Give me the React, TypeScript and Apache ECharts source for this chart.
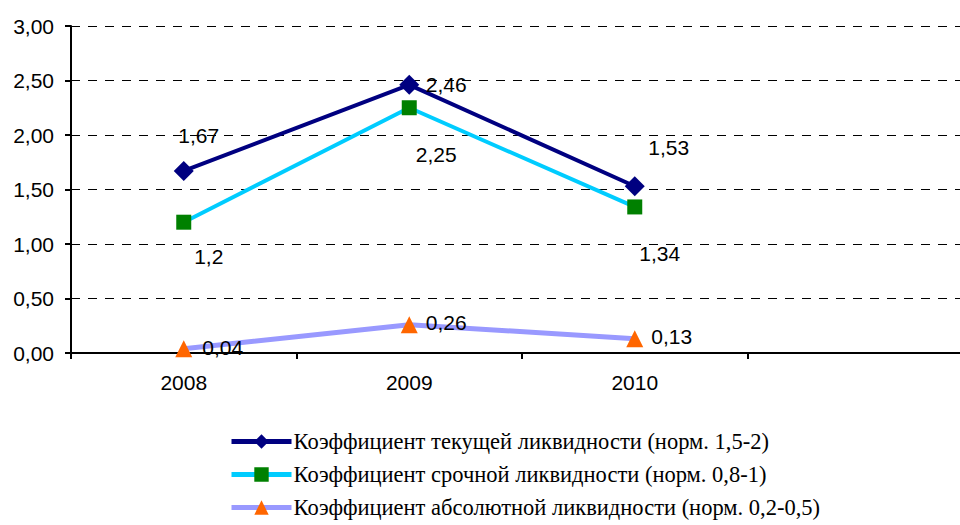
import React, { useEffect, useRef } from "react";
import * as echarts from "echarts";

const categories = ["2008", "2009", "2010", ""];
const seriesNames = [
  "Коэффициент текущей ликвидности (норм. 1,5-2)",
  "Коэффициент срочной ликвидности (норм. 0,8-1)",
  "Коэффициент абсолютной ликвидности (норм. 0,2-0,5)",
];
const currentRatio = [1.67, 2.46, 1.53];
const quickRatio = [1.2, 2.25, 1.34];
const absoluteRatio = [0.04, 0.26, 0.13];
const yTicks = { min: 0, max: 3, interval: 0.5 };

const comma = (v: number) => String(v).replace(".", ",");

export default function App() {
  const ref = useRef<HTMLDivElement>(null);
  useEffect(() => {
    if (!ref.current) return;
    const chart = echarts.init(ref.current, undefined, { renderer: "svg" });
    const labelFont = { fontFamily: "Liberation Sans", fontSize: 21, color: "#000" };
    const mk = (vals: number[], offsets: number[][]) =>
      vals.map((v, i) => ({
        value: v,
        label: { offset: offsets[i] },
      }));
    chart.setOption({
      animation: false,
      backgroundColor: "#fff",
      grid: {
        left: 71,
        width: 902,
        top: 26,
        bottom: 172,
        containLabel: false,
        outerBoundsMode: "none",
      },
      xAxis: {
        type: "category",
        data: categories,
        boundaryGap: true,
        axisLine: { lineStyle: { color: "#000", width: 2 } },
        axisTick: { show: true, interval: 0, length: 6, lineStyle: { color: "#000", width: 2 } },
        axisLabel: { ...labelFont, margin: 19, interval: 0 },
        splitLine: { show: false },
      },
      yAxis: {
        type: "value",
        min: yTicks.min,
        max: yTicks.max,
        interval: yTicks.interval,
        axisLine: { show: true, lineStyle: { color: "#000", width: 2 } },
        axisTick: { show: true, length: 6, lineStyle: { color: "#000", width: 2 } },
        axisLabel: { ...labelFont, margin: 17, formatter: (v: number) => v.toFixed(2).replace(".", ",") },
        splitLine: { show: true, lineStyle: { color: "#000", width: 1, type: [9, 8] } },
      },
      legend: {
        orient: "vertical",
        left: 229,
        top: 430,
        padding: 0,
        itemWidth: 60,
        itemHeight: 18,
        itemGap: 10,
        lineStyle: { width: 5 },
        textStyle: { fontFamily: "Liberation Serif", fontSize: 22.5, color: "#000", padding: [0, 0, 0, -3] },
        data: seriesNames,
      },
      series: [
        {
          name: seriesNames[0],
          type: "line",
          data: mk(currentRatio, [[15, -35], [37, 0], [34, -39]]),
          symbol: "diamond",
          symbolSize: 20,
          lineStyle: { color: "#000080", width: 4 },
          itemStyle: { color: "#000080" },
          label: { show: true, position: "inside", ...labelFont, formatter: (p: any) => comma(p.value) },
          z: 4,
        },
        {
          name: seriesNames[1],
          type: "line",
          data: mk(quickRatio, [[25, 34], [27, 47], [25, 47]]),
          symbol: "rect",
          symbolSize: 15,
          lineStyle: { color: "#00CCFF", width: 4 },
          itemStyle: { color: "#008000" },
          label: { show: true, position: "inside", ...labelFont, formatter: (p: any) => comma(p.value) },
          z: 3,
        },
        {
          name: seriesNames[2],
          type: "line",
          data: mk(absoluteRatio, [[39, -1], [37, -2], [37, -2]]),
          symbol: "triangle",
          symbolSize: 17,
          lineStyle: { color: "#9999FF", width: 5 },
          itemStyle: { color: "#FF6600" },
          label: { show: true, position: "inside", ...labelFont, formatter: (p: any) => comma(p.value) },
          z: 2,
        },
      ],
    });
    return () => chart.dispose();
  }, []);
  return (
    <div
      ref={ref}
      style={{ position: "fixed", left: 0, top: 0, width: 960, height: 525, background: "#fff" }}
    />
  );
}
